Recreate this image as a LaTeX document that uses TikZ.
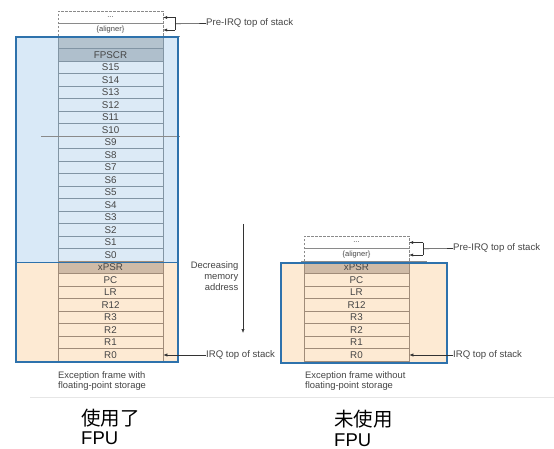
\documentclass[tikz,border=0pt]{standalone}
\usepackage{fontspec}
\setmainfont{Liberation Sans}
\newfontfamily\cjk{Noto Sans CJK SC}
\usetikzlibrary{arrows.meta}
\definecolor{bluefill}{HTML}{D9E9F7}
\definecolor{bluebord}{HTML}{2E72AC}
\definecolor{srowfill}{HTML}{DCEAF6}
\definecolor{srowline}{HTML}{8295A4}
\definecolor{fpfill}{HTML}{AFBFCC}
\definecolor{blankfill}{HTML}{B4C3CE}
\definecolor{orangefill}{HTML}{FDEAD3}
\definecolor{orowline}{HTML}{A08C79}
\definecolor{xpsrfill}{HTML}{CFBBA7}
\definecolor{txtgray}{HTML}{454545}
\definecolor{linegray}{HTML}{8A8A8A}
\definecolor{sepgray}{HTML}{E6E6E6}
\tikzset{
  rowbase/.style={rectangle, minimum width=105pt, minimum height=12.5pt, inner sep=0pt, text=txtgray, font=\fontsize{9.8}{10}\selectfont},
  srow/.style={rowbase, draw=srowline, fill=srowfill, line width=0.6pt},
  fprow/.style={rowbase, draw=srowline, fill=fpfill, line width=0.6pt},
  blankrow/.style={rowbase, draw=srowline, fill=blankfill, line width=0.6pt},
  orow/.style={rowbase, draw=orowline, fill=orangefill, line width=0.6pt},
  xrow/.style={rowbase, draw=orowline, fill=xpsrfill, line width=0.6pt},
  drow/.style={rowbase, font=\fontsize{7.5}{8}\selectfont},
  dashframe/.style={draw=linegray, dashed, dash pattern=on 2.5pt off 1.5pt, line width=0.6pt},
  gline/.style={draw=linegray, line width=0.6pt},
  arr/.style={draw=black!80, line width=0.6pt, -{Latex[length=4pt,width=3.2pt]}},
  cline/.style={draw=black!80, line width=0.6pt},
  lbl/.style={anchor=west, inner sep=0pt, text=txtgray, font=\fontsize{9.6}{10}\selectfont},
  caption/.style={anchor=north west, align=left, inner sep=0pt, text=txtgray, font=\fontsize{9.4}{10.5}\selectfont},
  boxline/.style={draw=bluebord, line width=1.3pt},
  bigcn/.style={anchor=west, inner sep=0pt, font=\cjk\fontsize{19.5}{20}\selectfont},
  bigfpu/.style={anchor=west, inner sep=0pt, font=\fontsize{18.5}{20}\selectfont}
}
\begin{document}
\begin{tikzpicture}[x=1pt,y=-1pt]
\useasboundingbox[fill=white] (0,0) rectangle (554,449);

% ---------- left frame ----------
\fill[bluefill] (16,37) rectangle (178,262.5);
\fill[orangefill] (16,262.5) rectangle (178,362);

\node[drow] (ldots) at (110.5,17.5) {...};
\node[drow] (lalign) at (110.5,30) {\{aligner\}};
\draw[dashframe] (58,36.25) -- (58,11.25) -- (163,11.25) -- (163,36.25);
\draw[gline] (58,23.75) -- (163,23.75);

\node[blankrow] (lblank) at (110.5,42.5) {};
\node[fprow] (lfpscr) at (110.5,55) {FPSCR};
\foreach \n in {0,...,15}
  \node[srow] (ls\n) at (110.5,{255-12.5*\n}) {S\n};
\node[xrow] (lxpsr) at (110.5,267.5) {xPSR};
\foreach \t [count=\i from 0] in {R0,R1,R2,R3,R12,LR,PC}
  \node[orow] (l\t) at (110.5,{355-12.5*\i}) {\t};

\draw[gline] (41,36.25) -- (180,36.25);
\draw[gline] (41,136.25) -- (180,136.25);
\draw[boxline] (16,37) rectangle (178,362);
\draw[boxline] (16,262.5) -- (178,262.5);

% pre-IRQ (left)
\coordinate (lbt) at (175,17.5);
\coordinate (lbb) at (175,30);
\coordinate (lbm) at (175,23.75);
\node[lbl] (lpre) at (206,23.5) {Pre-IRQ top of stack};
\draw[arr] (lbt) -- (ldots.east);
\draw[arr] (lbb) -- (lalign.east);
\draw[cline] (lbt) -- (lbb);
\draw[cline] (lbm) -- (lpre.west);

% IRQ (left)
\node[lbl] (lirq) at (206,355) {IRQ top of stack};
\draw[arr] (lirq.west) -- (lR0.east);

% decreasing arrow
\coordinate (dtop) at (243,224);
\coordinate (dbot) at (243,333);
\draw[arr] (dtop) -- (dbot);
\node[anchor=north east, align=right, inner sep=0pt, text=txtgray, font=\fontsize{9.4}{11}\selectfont] (dec) at (238.5,261.5) {Decreasing\\memory\\address};

\node[caption] (lcap) at (58,371) {Exception frame with\\floating-point storage};

% ---------- right frame ----------
\fill[orangefill] (281,262.5) rectangle (447,363);
\node[drow] (rdots) at (356.5,242.5) {...};
\node[drow] (ralign) at (356.5,255) {\{aligner\}};
\draw[dashframe] (304,261.25) -- (304,236.25) -- (409,236.25) -- (409,261.25);
\draw[gline] (304,248.75) -- (409,248.75);
\node[xrow] (rxpsr) at (356.5,267.5) {xPSR};
\foreach \t [count=\i from 0] in {R0,R1,R2,R3,R12,LR,PC}
  \node[orow] (r\t) at (356.5,{355-12.5*\i}) {\t};
\draw[gline] (301,261.25) -- (427,261.25);
\draw[boxline] (281,263) rectangle (447,363);

\coordinate (rbt) at (423,242.5);
\coordinate (rbb) at (423,255);
\coordinate (rbm) at (423,248.75);
\node[lbl] (rpre) at (453,248.5) {Pre-IRQ top of stack};
\draw[arr] (rbt) -- (rdots.east);
\draw[arr] (rbb) -- (ralign.east);
\draw[cline] (rbt) -- (rbb);
\draw[cline] (rbm) -- (rpre.west);

\node[lbl] (rirq) at (453,355) {IRQ top of stack};
\draw[arr] (rirq.west) -- (rR0.east);

\node[caption] (rcap) at (305,371) {Exception frame without\\floating-point storage};

% separator
\coordinate (sepl) at (30,397.5);
\coordinate (sepr) at (554,397.5);
\draw[draw=sepgray, line width=0.8pt] (sepl) -- (sepr);

% Chinese labels
\node[bigcn] (lcn) at (81,418.5) {使用了};
\node[bigfpu] (lfpu) at (81,438.5) {FPU};
\node[bigcn] (rcn) at (334,419.5) {未使用};
\node[bigfpu] (rfpu) at (334,440) {FPU};
\end{tikzpicture}
\end{document}
